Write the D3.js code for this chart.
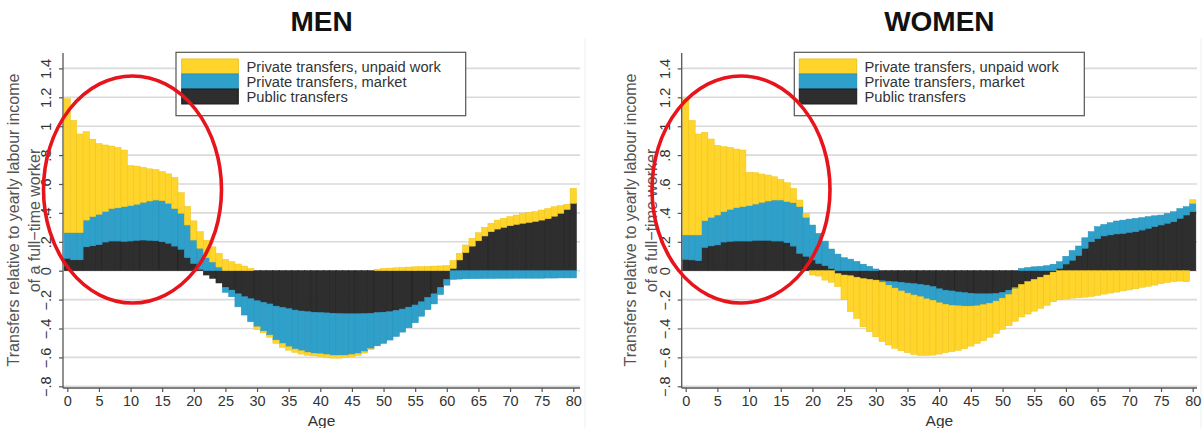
<!DOCTYPE html>
<html><head><meta charset="utf-8">
<script src="https://cdn.jsdelivr.net/npm/d3@7"></script>
<style>
body{margin:0;background:#fff;}
svg{display:block;font-family:"Liberation Sans",Arial,sans-serif;}
</style>
</head><body>
<svg id="chart" width="1203" height="428"></svg>
<script>
// ---------- DATA ----------
const ages = d3.range(0, 81);
const xTicks = [0,5,10,15,20,25,30,35,40,45,50,55,60,65,70,75,80];
const yTicks = [1.4,1.2,1,0.8,0.6,0.4,0.2,0,-0.2,-0.4,-0.6,-0.8];
const yTickLabels = ["1.4","1.2","1",".8",".6",".4",".2","0","\u2212.2","\u2212.4","\u2212.6","\u2212.8"];
const seriesKeys = ["public","market","unpaid"];
const legendLabels = ["Private transfers, unpaid work","Private transfers, market","Public transfers"];
const legendKeys = ["unpaid","market","public"];
const panelTitles = ["MEN","WOMEN"];

const menPublic = [
 0.085,0.075,0.075,0.165,0.172,0.18,0.198,0.205,0.205,0.203,
 0.205,0.21,0.212,0.21,0.207,0.2,0.19,0.17,0.148,0.09,
 0.05,0.01,-0.03,-0.053,-0.085,-0.115,-0.134,-0.16,-0.18,-0.194,
 -0.208,-0.219,-0.23,-0.245,-0.254,-0.263,-0.272,-0.279,-0.284,-0.288,
 -0.29,-0.292,-0.295,-0.297,-0.298,-0.298,-0.298,-0.297,-0.295,-0.29,
 -0.287,-0.284,-0.275,-0.265,-0.252,-0.237,-0.215,-0.185,-0.16,-0.115,
 -0.06,0.016,0.074,0.125,0.17,0.207,0.24,0.27,0.288,0.3,
 0.311,0.32,0.328,0.334,0.341,0.35,0.36,0.377,0.397,0.424,
 0.466];
const menMarket = [
 0.178,0.188,0.188,0.185,0.202,0.21,0.212,0.225,0.23,0.24,
 0.245,0.25,0.261,0.272,0.282,0.284,0.276,0.26,0.249,0.226,
 0.162,0.145,0.09,0.06,0.025,-0.035,-0.046,-0.09,-0.127,-0.159,
 -0.18,-0.199,-0.215,-0.235,-0.249,-0.263,-0.27,-0.275,-0.281,-0.284,
 -0.285,-0.288,-0.29,-0.288,-0.287,-0.282,-0.275,-0.263,-0.245,-0.23,
 -0.216,-0.196,-0.18,-0.16,-0.143,-0.123,-0.1,-0.085,-0.07,-0.05,
 -0.04,-0.06,-0.058,-0.056,-0.055,-0.055,-0.054,-0.054,-0.053,-0.053,
 -0.053,-0.052,-0.052,-0.052,-0.052,-0.052,-0.051,-0.051,-0.05,-0.05,
 -0.05];
const menUnpaid = [
 0.927,0.777,0.683,0.612,0.536,0.49,0.46,0.433,0.418,0.392,
 0.277,0.264,0.242,0.223,0.211,0.201,0.204,0.215,0.143,0.129,
 0.133,0.115,0.12,0.105,0.095,0.078,0.062,0.046,0.032,0.016,
 -0.018,-0.012,-0.015,-0.023,-0.027,-0.024,-0.023,-0.023,-0.02,-0.018,
 -0.02,-0.02,-0.02,-0.02,-0.017,-0.017,-0.014,-0.01,-0.005,0.01,
 0.015,0.018,0.02,0.022,0.025,0.027,0.028,0.03,0.032,0.033,
 0.035,0.054,0.046,0.053,0.054,0.056,0.06,0.058,0.062,0.062,
 0.063,0.065,0.069,0.07,0.067,0.07,0.07,0.066,0.053,0.036,
 0.104];

const womenPublic = [
 0.078,0.074,0.069,0.161,0.171,0.178,0.198,0.203,0.205,0.205,
 0.205,0.21,0.21,0.21,0.205,0.205,0.194,0.17,0.12,0.1,
 0.074,0.05,0.035,0.015,-0.02,-0.03,-0.035,-0.045,-0.055,-0.06,
 -0.065,-0.07,-0.073,-0.077,-0.08,-0.085,-0.09,-0.095,-0.1,-0.11,
 -0.125,-0.135,-0.14,-0.147,-0.152,-0.156,-0.16,-0.16,-0.16,-0.158,
 -0.15,-0.135,-0.115,-0.095,-0.075,-0.06,-0.045,-0.03,-0.01,0.016,
 0.046,0.072,0.105,0.155,0.2,0.222,0.24,0.247,0.254,0.258,
 0.265,0.27,0.281,0.293,0.305,0.316,0.328,0.339,0.362,0.385,
 0.408];
const womenMarket = [
 0.169,0.173,0.178,0.185,0.198,0.207,0.21,0.221,0.231,0.238,
 0.245,0.251,0.263,0.272,0.284,0.284,0.284,0.3,0.323,0.269,
 0.242,0.208,0.17,0.135,0.115,0.09,0.08,0.064,0.045,0.03,
 0.012,-0.01,-0.027,-0.043,-0.06,-0.07,-0.078,-0.085,-0.095,-0.095,
 -0.097,-0.097,-0.1,-0.096,-0.093,-0.089,-0.083,-0.075,-0.065,-0.052,
 -0.04,-0.03,-0.01,0.016,0.022,0.027,0.03,0.035,0.045,0.046,
 0.054,0.068,0.066,0.073,0.07,0.083,0.08,0.085,0.09,0.092,
 0.092,0.092,0.086,0.081,0.075,0.069,0.069,0.069,0.068,0.058,
 0.058];
const womenUnpaid = [
 0.943,0.793,0.699,0.611,0.542,0.482,0.45,0.429,0.406,0.392,
 0.23,0.217,0.196,0.18,0.161,0.143,0.131,0.1,0.046,0.028,
 -0.03,-0.037,-0.065,-0.08,-0.09,-0.17,-0.249,-0.285,-0.333,-0.362,
 -0.392,-0.41,-0.414,-0.417,-0.414,-0.412,-0.411,-0.406,-0.391,-0.379,
 -0.355,-0.335,-0.32,-0.308,-0.295,-0.277,-0.26,-0.249,-0.235,-0.224,
 -0.215,-0.215,-0.225,-0.225,-0.225,-0.22,-0.215,-0.21,-0.205,-0.2,
 -0.195,-0.19,-0.187,-0.183,-0.178,-0.17,-0.162,-0.155,-0.148,-0.14,
 -0.133,-0.125,-0.115,-0.108,-0.1,-0.09,-0.082,-0.075,-0.072,-0.076,
 0.025];

// ---------- STYLE ----------
const fills = {unpaid:"#FFD52B", market:"#2FA0CA", public:"#2E2E2E"};
const strokes = {unpaid:"#EDC21A", market:"#2690BB", public:"#1C1C1C"};

const svg = d3.select("#chart");

const panels = [
  {title:panelTitles[0], pub:menPublic, mkt:menMarket, unp:menUnpaid,
   axisX:63, x0:67.3, x80:573.3, gridRight:580, edge:585,
   tickLabelX:51, lab1X:19, lab2X:39.5,
   legend:{x:176, y:52.3, w:289.7, h:63.4, swX:181.7, swW:56.6, txtX:246.5},
   ellipse:{cx:132.5, cy:189.5, rx:89, ry:113.5}},
  {title:panelTitles[1], pub:womenPublic, mkt:womenMarket, unp:womenUnpaid,
   axisX:681.7, x0:685.7, x80:1192.7, gridRight:1197, edge:1201,
   tickLabelX:669.5, lab1X:636, lab2X:656.5,
   legend:{x:794.3, y:52.3, w:290, h:63.4, swX:799.3, swW:57.4, txtX:864.5},
   ellipse:{cx:741, cy:189.5, rx:89, ry:113.5}}
];

const yTop = 53, yBottom = 388;

panels.forEach(p => {
  const g = svg.append("g");
  const x = d3.scaleLinear().domain([0, 80]).range([p.x0, p.x80]);
  const y = d3.scaleLinear().domain([-0.8, 1.4]).range([386.3, 68.4]);

  // faint region edge
  g.append("line").attr("x1", p.edge).attr("x2", p.edge).attr("y1", 38).attr("y2", 428)
    .attr("stroke", "#eef3f6").attr("stroke-width", 1.2);

  // gridlines
  g.append("g").selectAll("line").data(yTicks).join("line")
    .attr("x1", p.axisX).attr("x2", p.gridRight)
    .attr("y1", d => y(d)).attr("y2", d => y(d))
    .attr("stroke", "#dadada").attr("stroke-width", 1.6);

  // stacked bars
  const rows = ages.map((a, i) => ({age:a, public:p.pub[i], market:p.mkt[i], unpaid:p.unp[i]}));
  const stacked = d3.stack().keys(seriesKeys).offset(d3.stackOffsetDiverging)(rows);
  stacked.forEach(s => {
    g.append("g").selectAll("rect").data(s).join("rect")
      .attr("x", d => x(d.data.age - 0.5))
      .attr("width", d => x(d.data.age + 0.5) - x(d.data.age - 0.5))
      .attr("y", d => y(Math.max(d[0], d[1])))
      .attr("height", d => Math.abs(y(d[0]) - y(d[1])))
      .attr("fill", fills[s.key])
      .attr("stroke", strokes[s.key]).attr("stroke-width", 0.5);
  });

  // y axis
  const yAxis = g.append("g").attr("transform", `translate(${p.axisX},0)`)
    .call(d3.axisLeft(y).tickValues(yTicks).tickSize(4).tickSizeOuter(0)
      .tickFormat((d, i) => yTickLabels[i]));
  yAxis.select(".domain").remove();
  yAxis.selectAll(".tick line").attr("stroke", "#555").attr("stroke-width", 1.2);
  yAxis.selectAll(".tick text")
    .attr("x", 0).attr("dy", 0).attr("text-anchor", "middle")
    .attr("transform", `translate(${p.tickLabelX - p.axisX},0) rotate(-90)`)
    .attr("font-size", 14.5).attr("fill", "#333")
    .attr("font-family", '"Liberation Sans",Arial,sans-serif');
  g.append("line").attr("x1", p.axisX).attr("x2", p.axisX).attr("y1", yTop).attr("y2", yBottom)
    .attr("stroke", "#555").attr("stroke-width", 1.3);

  // x axis
  const xAxis = g.append("g").attr("transform", `translate(0,${yBottom})`)
    .call(d3.axisBottom(x).tickValues(xTicks).tickSize(4).tickSizeOuter(0));
  xAxis.select(".domain").remove();
  xAxis.selectAll(".tick line").attr("stroke", "#555").attr("stroke-width", 1.2);
  xAxis.selectAll(".tick text").attr("y", 8).attr("dy", "0.71em")
    .attr("font-size", 14.5).attr("fill", "#333")
    .attr("font-family", '"Liberation Sans",Arial,sans-serif');
  g.append("line").attr("x1", p.axisX).attr("x2", p.gridRight).attr("y1", yBottom).attr("y2", yBottom)
    .attr("stroke", "#555").attr("stroke-width", 1.3);

  const midX = (p.axisX + p.gridRight) / 2;
  g.append("text").attr("x", midX).attr("y", 426).attr("text-anchor", "middle")
    .attr("font-size", 15.5).attr("fill", "#333").text("Age");

  // y-axis titles
  g.append("text").attr("transform", `translate(${p.lab1X},220) rotate(-90)`)
    .attr("text-anchor", "middle").attr("font-size", 16).attr("fill", "#555")
    .text("Transfers relative to yearly labour income");
  g.append("text").attr("transform", `translate(${p.lab2X},220.5) rotate(-90)`)
    .attr("text-anchor", "middle").attr("font-size", 16).attr("fill", "#555")
    .text("of a full\u2212time worker");

  // legend
  const L = p.legend;
  const lg = g.append("g");
  lg.append("rect").attr("x", L.x).attr("y", L.y).attr("width", L.w).attr("height", L.h)
    .attr("fill", "#fff").attr("stroke", "#555").attr("stroke-width", 1.2);
  legendKeys.forEach((k, i) => {
    const ry = 59 + i * 15;
    lg.append("rect").attr("x", L.swX).attr("y", ry).attr("width", L.swW).attr("height", 15)
      .attr("fill", fills[k]).attr("stroke", strokes[k]).attr("stroke-width", 1);
    lg.append("text").attr("x", L.txtX).attr("y", ry + 12.5)
      .attr("font-size", 14.7).attr("fill", "#333").text(legendLabels[i]);
  });

  // title
  svg.append("text").attr("x", midX).attr("y", 31).attr("text-anchor", "middle")
    .attr("font-size", 28).attr("font-weight", "bold").attr("fill", "#111")
    .text(p.title);

  // red ellipse annotation
  const E = p.ellipse;
  svg.append("ellipse").attr("cx", E.cx).attr("cy", E.cy).attr("rx", E.rx).attr("ry", E.ry)
    .attr("fill", "none").attr("stroke", "#E8141C").attr("stroke-width", 3.6);
});
</script>
</body></html>
